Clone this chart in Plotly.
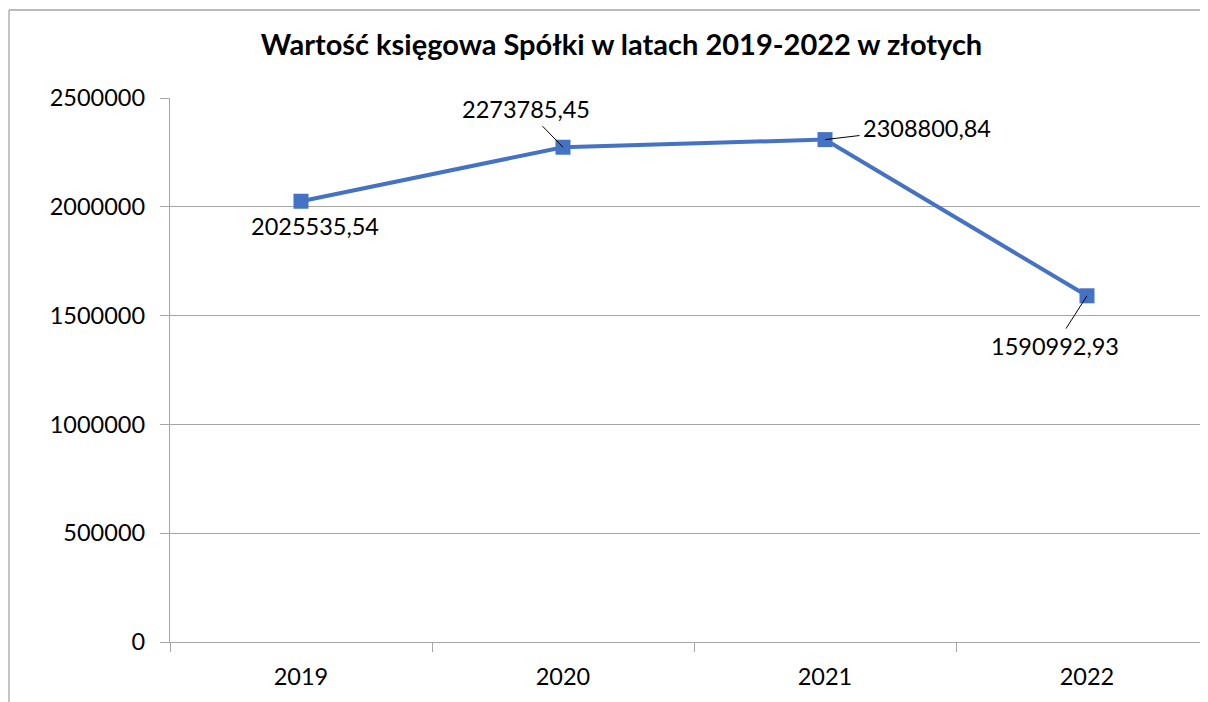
import plotly.graph_objects as go

years = ["2019", "2020", "2021", "2022"]
values = [2025535.54, 2273785.45, 2308800.84, 1590992.93]
y_ticks = [0, 500000, 1000000, 1500000, 2000000, 2500000]
title_text = "Wartość księgowa Spółki w latach 2019-2022 w złotych"

# label offsets (pixels, text centre relative to point) and leader-line flags
label_dx = [14, -37, 102, -32]
label_dy = [25, -38, -12, 50]
label_arrow = [False, True, True, True]

FONT = "Lato"
BLUE = "#4472C4"
GRID = "#A6A6A6"

# page body has an 8px margin, so the figure is laid out 8px up/left
W, H = 1200, 694
ML, MT, MB, MR = 162, 90, 60, 0
PW = W - ML - MR
PH = H - MT - MB
BAND = 262.0

fig = go.Figure()
fig.add_trace(go.Scatter(
    x=years, y=values, mode="lines+markers",
    line=dict(color=BLUE, width=4),
    marker=dict(symbol="square", size=15, color=BLUE),
    hoverinfo="skip", showlegend=False,
))

def fmt(v):
    return f"{v:.2f}".replace(".", ",")

for i, (v, dx, dy, arr) in enumerate(zip(values, label_dx, label_dy, label_arrow)):
    if arr:
        fig.add_annotation(x=i, y=v, text=fmt(v), showarrow=True,
                           ax=dx, ay=dy, axref="pixel", ayref="pixel",
                           arrowhead=0, arrowwidth=1, arrowcolor="black",
                           standoff=0, startstandoff=2,
                           font=dict(family=FONT, size=23.5, color="black"))
    else:
        fig.add_annotation(x=i, y=v, text=fmt(v), showarrow=False,
                           xshift=dx, yshift=-dy,
                           font=dict(family=FONT, size=23.5, color="black"))

# outer chart border (left & top visible)
bx = (1 - ML) / PW
by = 1 + (MT - 2) / PH
fig.add_shape(type="line", xref="paper", yref="paper",
              x0=bx, x1=bx, y0=-0.3, y1=by,
              line=dict(color=GRID, width=1.3), layer="below")
fig.add_shape(type="line", xref="paper", yref="paper",
              x0=bx, x1=1.3, y0=by, y1=by,
              line=dict(color=GRID, width=1.3), layer="below")

fig.update_layout(
    width=W, height=H,
    margin=dict(l=ML, r=MR, t=MT, b=MB, autoexpand=False),
    paper_bgcolor="white", plot_bgcolor="white",
    title=dict(text=f"<b>{title_text}</b>", xref="container", yref="container",
               x=613.5 / W, y=1 - 37 / H, xanchor="center", yanchor="middle",
               font=dict(family=FONT, size=29, color="black")),
    font=dict(family=FONT, size=23.5, color="black"),
    xaxis=dict(type="category", range=[-0.5, -0.5 + PW / BAND],
               tickson="boundaries", ticks="outside", ticklen=9, tickcolor=GRID,
               showgrid=False, showline=True, linecolor=GRID, linewidth=1.3,
               tickfont=dict(family=FONT, size=23.5), ticklabelstandoff=14),
    yaxis=dict(range=[0, 2500000], tickvals=y_ticks, tickformat="d",
               ticks="outside", ticklen=9, tickcolor=GRID,
               showgrid=True, gridcolor=GRID, gridwidth=1.3,
               showline=True, linecolor=GRID, linewidth=1.3, zeroline=False,
               tickfont=dict(family=FONT, size=23.5), ticklabelstandoff=10),
)

fig.write_html("out.html")
